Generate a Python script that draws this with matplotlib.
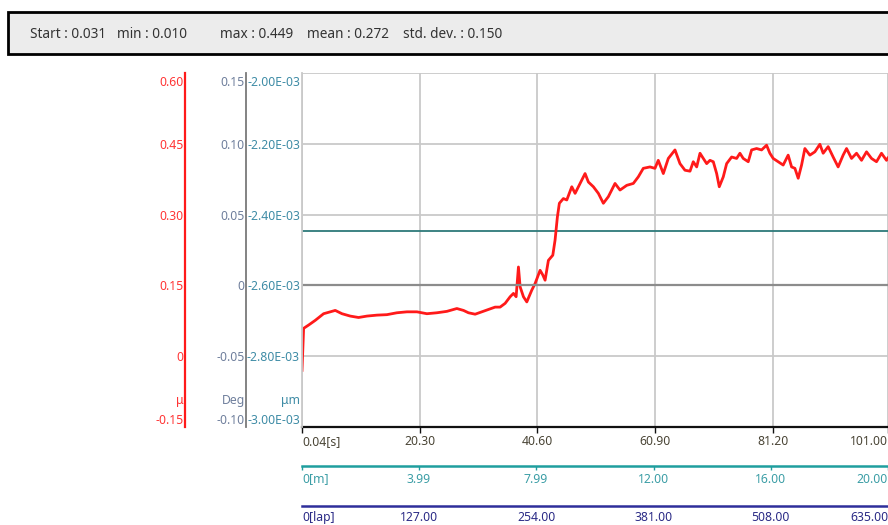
import matplotlib
matplotlib.use("Agg")
import matplotlib.pyplot as plt
from matplotlib.patches import Rectangle
from matplotlib.transforms import ScaledTranslation

plt.rcParams['font.family'] = ['Noto Sans', 'DejaVu Sans']

# ---- summary statistics shown in the header ----
stat_start = 0.031
stat_min = 0.010
stat_max = 0.449
stat_mean = 0.272
stat_std = 0.150

# ---- friction trace (time in s, coefficient in mu) ----
time_s = [
    0.04, 0.32, 1.18, 2.33, 3.76, 4.91, 5.77, 6.93, 8.35, 9.78, 11.23, 12.95, 14.67,
    16.39, 18.11, 19.84, 21.56, 23.28, 25.00, 26.72, 27.86, 28.72, 29.87, 31.02, 32.16, 33.31,
    34.17, 35.04, 35.90, 36.47, 36.93, 37.33, 37.62, 38.19, 38.77, 39.63, 40.20, 41.06,
    41.53, 41.92, 42.49, 43.25, 43.64, 44.04, 44.38, 45.07, 45.66, 46.52, 47.09, 47.95,
    48.81, 49.38, 50.24, 51.10, 51.96, 52.82, 53.97, 54.83, 55.99, 57.12, 57.98, 58.84,
    59.99, 60.85, 61.42, 62.29, 63.15, 64.30, 65.16, 66.02,
    66.89, 67.45, 68.04, 68.61, 69.18, 69.76, 70.33, 70.90, 71.48, 71.93, 72.62, 73.20,
    74.06, 74.92, 75.49, 76.06, 76.92, 77.50, 78.36, 79.22, 80.08, 80.65, 81.22, 82.08,
    82.94, 83.80, 84.39, 84.96, 85.53, 86.11, 86.68, 87.54, 88.40, 89.26, 89.83, 90.69,
    91.55, 92.41, 93.27, 93.86, 94.72, 95.58, 96.44, 97.30, 98.16, 99.02, 99.88, 100.74, 101.00,
]
friction_mu = [
    -0.030, 0.059, 0.066, 0.076, 0.090, 0.094, 0.097, 0.090, 0.085, 0.082, 0.085, 0.087, 0.088,
    0.092, 0.094, 0.094, 0.090, 0.092, 0.095, 0.101, 0.097, 0.092, 0.089, 0.094, 0.099, 0.104,
    0.104, 0.112, 0.126, 0.133, 0.126, 0.189, 0.147, 0.126, 0.115, 0.140, 0.154, 0.182,
    0.172, 0.161, 0.203, 0.214, 0.246, 0.295, 0.324, 0.334, 0.331, 0.359, 0.345, 0.366,
    0.387, 0.369, 0.359, 0.345, 0.324, 0.338, 0.366, 0.352, 0.362, 0.366, 0.380, 0.398,
    0.401, 0.398, 0.415, 0.387, 0.419, 0.437, 0.408, 0.394,
    0.392, 0.412, 0.401, 0.430, 0.419, 0.408, 0.415, 0.412, 0.387, 0.359, 0.380, 0.408,
    0.422, 0.419, 0.430, 0.419, 0.412, 0.437, 0.440, 0.437, 0.447, 0.430, 0.419, 0.412,
    0.405, 0.426, 0.401, 0.398, 0.377, 0.405, 0.440, 0.426, 0.433, 0.449, 0.430, 0.444,
    0.422, 0.401, 0.426, 0.440, 0.419, 0.430, 0.415, 0.433, 0.419, 0.412, 0.430, 0.415, 0.420,
]

# horizontal reference level (mu)
ref_level = 0.265

# ---- axis scales and tick labels ----
mu_ticks = [-0.15, 0.0, 0.15, 0.30, 0.45, 0.60]
mu_labels = ["-0.15", "0", "0.15", "0.30", "0.45", "0.60"]
deg_ticks = [-0.10, -0.05, 0.0, 0.05, 0.10, 0.15]
deg_labels = ["-0.10", "-0.05", "0", "0.05", "0.10", "0.15"]
um_ticks = [-3.0e-3, -2.8e-3, -2.6e-3, -2.4e-3, -2.2e-3, -2.0e-3]
um_labels = ["-3.00E-03", "-2.80E-03", "-2.60E-03", "-2.40E-03", "-2.20E-03", "-2.00E-03"]
time_ticks = [0.04, 20.30, 40.60, 60.90, 81.20, 101.00]
time_labels = ["0.04[s]", "20.30", "40.60", "60.90", "81.20", "101.00"]
dist_max = 20.00
dist_ticks = [0.0, 3.99, 7.99, 12.00, 16.00, 20.00]
dist_labels = ["0[m]", "3.99", "7.99", "12.00", "16.00", "20.00"]
lap_max = 635.0
lap_ticks = [0.0, 127.0, 254.0, 381.0, 508.0, 635.0]
lap_labels = ["0[lap]", "127.00", "254.00", "381.00", "508.00", "635.00"]

# ---- colours ----
RED = "#ff1a1a"
RED_TXT = "#ff3535"
DEG_LINE = "#7a7a7a"
DEG_TXT = "#6f7f9c"
UM_TXT = "#3f8ca6"
GRID = "#c9c9c9"
TIME_TXT = "#4a4536"
TEAL = "#1f9e9e"
TEAL_TXT = "#3c9ea6"
NAVY = "#2e2e9a"
NAVY_TXT = "#2b2b86"
FS = 8.8
HEADER_FS = 9.8

W, H = 888, 525
PT = 72 / 100  # points per pixel at 100 dpi
fig = plt.figure(figsize=(W / 100, H / 100), dpi=100)


def fx(px):
    return px / W


def fy(py):
    return 1 - py / H


# ---- header box with statistics ----
fig.patches.append(Rectangle((fx(8), fy(54)), 1.0, 42 / H, transform=fig.transFigure,
                             facecolor="#ececec", edgecolor="black", linewidth=2))
header_items = [
    (30, f"Start : {stat_start:.3f}"),
    (117, f"min : {stat_min:.3f}"),
    (220, f"max : {stat_max:.3f}"),
    (307, f"mean : {stat_mean:.3f}"),
    (403, f"std. dev. : {stat_std:.3f}"),
]
for px, txt in header_items:
    fig.text(fx(px), fy(34.5), txt, fontsize=HEADER_FS, color="#333333", ha="left", va="center")

# ---- main plotting area ----
left_px, right_px, top_px, bot_px = 302, 888, 73, 427
ax = fig.add_axes([fx(left_px), fy(bot_px), (right_px - left_px) / W, (bot_px - top_px) / H])
ax.set_xlim(time_ticks[0], time_ticks[-1])
ax.set_ylim(mu_ticks[0], mu_ticks[-1])
ax.set_facecolor("white")

ax.set_yticks(mu_ticks, labels=mu_labels)
ax.set_xticks(time_ticks, labels=time_labels)
ax.grid(True, color=GRID, linewidth=1.3)
ax.set_axisbelow(True)

# friction coefficient axis (red) sits outside to the left
ax.spines["left"].set_position(("outward", (left_px - 185) * PT))
ax.spines["left"].set_color(RED)
ax.spines["left"].set_linewidth(1.6)
ax.spines["top"].set_visible(False)
ax.spines["right"].set_visible(False)
ax.spines["bottom"].set_color("#111111")
ax.spines["bottom"].set_linewidth(1.6)
ax.tick_params(axis="y", length=0, pad=1, labelcolor=RED_TXT, labelsize=FS)
ax.tick_params(axis="x", length=4, width=1, color="#111111", pad=2,
               labelcolor=TIME_TXT, labelsize=FS)

top_shift = ScaledTranslation(0, -3 / 100, fig.dpi_scale_trans)


def clamp_end_labels(labels):
    labels[0].set_verticalalignment("bottom")
    labels[-1].set_verticalalignment("top")
    labels[-1].set_transform(labels[-1].get_transform() + top_shift)


clamp_end_labels(ax.get_yticklabels())
xlab = ax.get_xticklabels()
xlab[0].set_horizontalalignment("left")
xlab[-1].set_horizontalalignment("right")

# trace and reference level
ax.axhline(ref_level, color="#2d7a7a", linewidth=1.3, zorder=2)
ax.plot(time_s, friction_mu, color=RED, linewidth=2.0, zorder=4)

# ---- angle axis (Deg) ----
ax_deg = ax.twinx()
ax_deg.set_ylim(deg_ticks[0], deg_ticks[-1])
ax_deg.yaxis.tick_left()
ax_deg.spines["left"].set_position(("outward", (left_px - 246) * PT))
ax_deg.spines["left"].set_visible(True)
ax_deg.spines["left"].set_color(DEG_LINE)
ax_deg.spines["left"].set_linewidth(1.3)
for s in ("right", "top", "bottom"):
    ax_deg.spines[s].set_visible(False)
ax_deg.set_yticks(deg_ticks, labels=deg_labels)
ax_deg.set_yticks([deg_ticks[0], deg_ticks[-1]], minor=True)
ax_deg.tick_params(axis="y", which="major", length=0, pad=1, labelcolor=DEG_TXT, labelsize=FS)
ax_deg.tick_params(axis="y", which="minor", length=3, width=1.2, color=DEG_LINE, direction="out")
clamp_end_labels(ax_deg.get_yticklabels())
ax_deg.axhline(0.0, color="#8c8c8c", linewidth=1.6, zorder=3)

# ---- displacement axis (um) on the plot border ----
ax_um = ax.twinx()
ax_um.set_ylim(um_ticks[0], um_ticks[-1])
ax_um.yaxis.tick_left()
ax_um.spines["left"].set_visible(True)
ax_um.spines["left"].set_color(GRID)
ax_um.spines["left"].set_linewidth(1.3)
for s in ("right", "top", "bottom"):
    ax_um.spines[s].set_visible(False)
ax_um.set_yticks(um_ticks, labels=um_labels)
ax_um.tick_params(axis="y", length=0, pad=1.5, labelcolor=UM_TXT, labelsize=FS)
clamp_end_labels(ax_um.get_yticklabels())

# unit captions above the lowest tick of each vertical axis
unit_y = (bot_px - 400.5) / (bot_px - top_px)
span = right_px - left_px
for px, txt, col in ((184, "μ", RED_TXT), (245, "Deg", DEG_TXT), (300, "μm", UM_TXT)):
    ax.text((px - left_px) / span, unit_y, txt, transform=ax.transAxes,
            ha="right", va="center", fontsize=FS, color=col, clip_on=False)

# ---- secondary horizontal scales: distance and laps ----
t0, t1 = time_ticks[0], time_ticks[-1]


def t_to_dist(t):
    return (t - t0) / (t1 - t0) * dist_max


def dist_to_t(d):
    return d / dist_max * (t1 - t0) + t0


def t_to_lap(t):
    return (t - t0) / (t1 - t0) * lap_max


def lap_to_t(n):
    return n / lap_max * (t1 - t0) + t0


sec_specs = [
    (465.7, (t_to_dist, dist_to_t), dist_ticks, dist_labels, TEAL, TEAL_TXT, 3),
    (505.7, (t_to_lap, lap_to_t), lap_ticks, lap_labels, NAVY, NAVY_TXT, 0),
]
for py, funcs, ticks, labels, col, tcol, tlen in sec_specs:
    loc = -(py - bot_px) / (bot_px - top_px)
    sec = ax.secondary_xaxis(loc, functions=funcs)
    sec.set_xticks(ticks, labels=labels)
    sec.spines["bottom"].set_color(col)
    sec.spines["bottom"].set_linewidth(1.8)
    sec.tick_params(axis="x", length=tlen, width=1, color=col, pad=4 - tlen * 0.7,
                    labelcolor=tcol, labelsize=FS)
    slab = sec.get_xticklabels()
    slab[0].set_horizontalalignment("left")
    slab[-1].set_horizontalalignment("right")

fig.savefig("out.png", dpi=100)
